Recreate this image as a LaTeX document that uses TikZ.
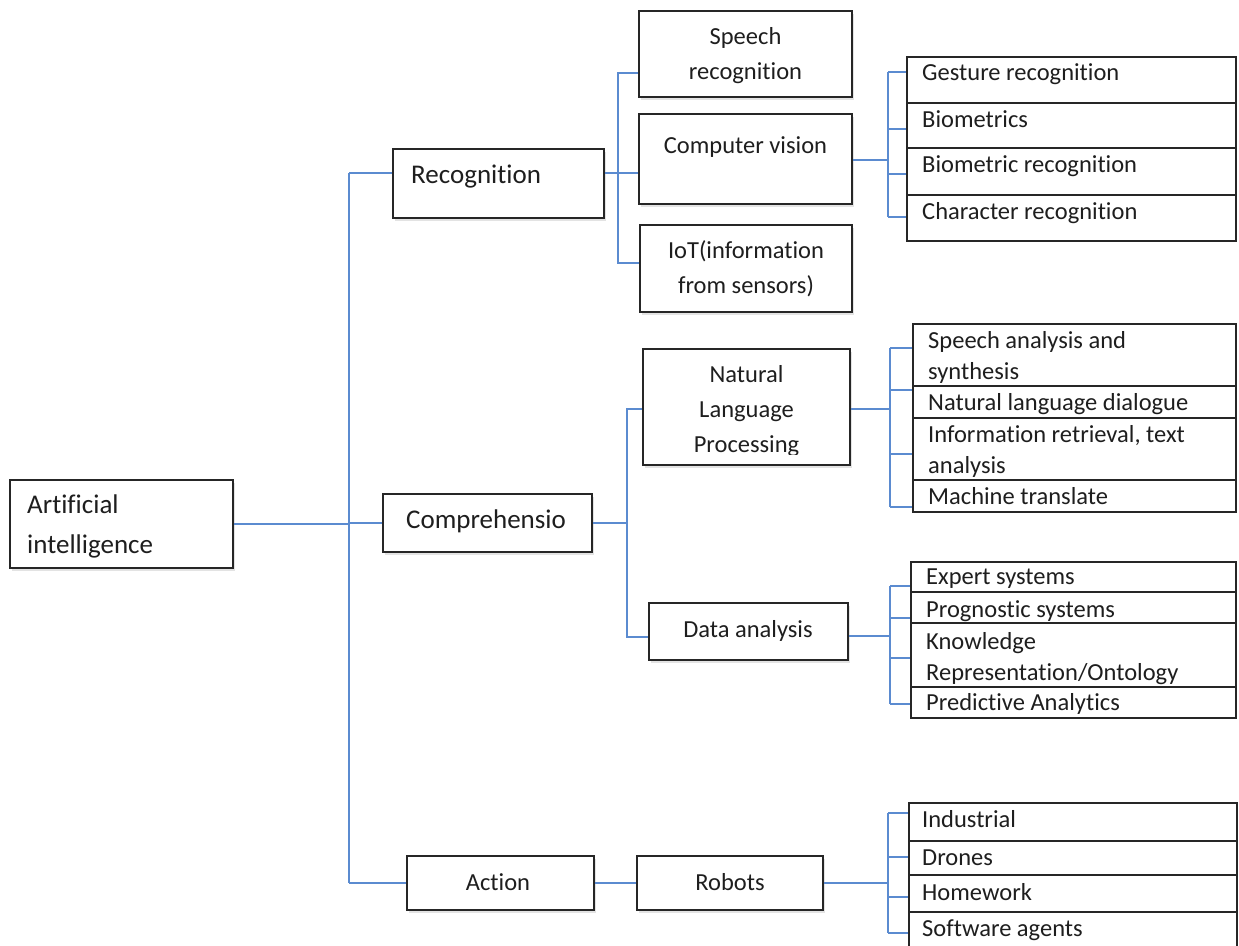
\documentclass[tikz,border=0pt]{standalone}
\usepackage{fontspec}
\setmainfont{Carlito}[Ligatures={NoCommon}]
\usetikzlibrary{fit,shadows}
\definecolor{conn}{HTML}{5B8BD0}
\definecolor{edgec}{HTML}{262626}
\definecolor{ink}{HTML}{1E1E1E}
\tikzset{
  box/.style={draw=edgec, line width=1.6pt, fill=white, inner sep=0pt,
    drop shadow={shadow xshift=1.5pt, shadow yshift=-2.5pt, opacity=0.22}},
  rowbox/.style={draw=edgec, line width=1.4pt, fill=white, inner sep=0pt},
  link/.style={draw=conn, line width=1.3pt},
  bigtxt/.style={font=\fontsize{27}{40}\selectfont, text=ink, inner sep=0pt},
  lbltxt/.style={font=\fontsize{24.5}{35}\selectfont, text=ink, inner sep=0pt},
  stktxt/.style={font=\fontsize{24.5}{31}\selectfont, text=ink, inner sep=0pt},
}
\newcommand{\lft}[1]{\begin{tabular}[t]{@{}l@{}}#1\end{tabular}}
\newcommand{\ctr}[1]{\begin{tabular}[t]{@{}c@{}}#1\end{tabular}}
\begin{document}
\begin{tikzpicture}[x=1pt,y=-1pt]
\useasboundingbox (0,0) rectangle (1239,945);

% ---- main boxes
\node[box, fit={(10,480) (233,568)}] (ai) {};
\node[box, fit={(393,149) (604,218)}] (rec) {};
\node[box, fit={(383,494) (592,552)}] (comp) {};
\node[box, fit={(407,856) (594,910)}] (act) {};
\node[box, fit={(639,11) (852,97)}] (sp) {};
\node[box, fit={(639,114) (852,204)}] (cv) {};
\node[box, fit={(640,225) (852,312)}] (iot) {};
\node[box, fit={(643,349) (850,465)}] (nlp) {};
\node[box, fit={(649,603) (848,660)}] (da) {};
\node[box, fit={(637,856) (823,910)}] (rob) {};

% ---- stacks
\node[rowbox, fit={(907,57) (1236,103)}] (g1) {};
\node[rowbox, fit={(907,103) (1236,148)}] (g2) {};
\node[rowbox, fit={(907,148) (1236,195)}] (g3) {};
\node[rowbox, fit={(907,195) (1236,241)}] (g4) {};

\node[rowbox, fit={(913,324) (1236,386)}] (n1) {};
\node[rowbox, fit={(913,386) (1236,418)}] (n2) {};
\node[rowbox, fit={(913,418) (1236,480)}] (n3) {};
\node[rowbox, fit={(913,480) (1236,512)}] (n4) {};

\node[rowbox, fit={(911,562) (1236,592)}] (d1) {};
\node[rowbox, fit={(911,592) (1236,623)}] (d2) {};
\node[rowbox, fit={(911,623) (1236,687)}] (d3) {};
\node[rowbox, fit={(911,687) (1236,718)}] (d4) {};

\node[rowbox, fit={(909,803) (1237,841)}] (r1) {};
\node[rowbox, fit={(909,841) (1237,875)}] (r2) {};
\node[rowbox, fit={(909,875) (1237,912)}] (r3) {};
\node[rowbox, fit={(909,912) (1237,955)}] (r4) {};

% ---- texts
\node[bigtxt, anchor=base west] (tai) at (27,513) {\lft{Artificial\\intelligence}};
\node[bigtxt, anchor=base west] (trec) at (411,183) {Recognition};
\node[bigtxt, anchor=base west] (tcomp) at (406,528) {Comprehensio};
\node[lbltxt, anchor=base] (tact) at (498,890.5) {Action};
\node[lbltxt, anchor=base] (tsp) at (745.5,44.5) {\ctr{Speech\\recognition}};
\node[lbltxt, anchor=base] (tcv) at (745.5,153.5) {Computer vision};
\node[lbltxt, anchor=base] (tiot) at (746,258.5) {\ctr{IoT(information\\from sensors)}};
\begin{scope}
\clip (643,349) rectangle (850,454);
\node[lbltxt, anchor=base] (tnlp) at (746.5,382.5) {\ctr{Natural\\Language\\Processing}};
\end{scope}
\node[lbltxt, anchor=base] (tda) at (748,637.5) {Data analysis};
\node[lbltxt, anchor=base] (trob) at (730,890.5) {Robots};

\node[stktxt, anchor=base west] (tg1) at (922,80.5) {Gesture recognition};
\node[stktxt, anchor=base west] (tg2) at (922,127.5) {Biometrics};
\node[stktxt, anchor=base west] (tg3) at (922,172.5) {Biometric recognition};
\node[stktxt, anchor=base west] (tg4) at (922,219.5) {Character recognition};

\node[stktxt, anchor=base west] (tn1) at (928,348.5) {\lft{Speech analysis and\\synthesis}};
\node[stktxt, anchor=base west] (tn2) at (928,410.5) {Natural language dialogue};
\node[stktxt, anchor=base west] (tn3) at (928,442.5) {\lft{Information retrieval, text\\analysis}};
\node[stktxt, anchor=base west] (tn4) at (928,504.5) {Machine translate};

\node[stktxt, anchor=base west] (td1) at (926,584.5) {Expert systems};
\node[stktxt, anchor=base west] (td2) at (926,617.5) {Prognostic systems};
\node[stktxt, anchor=base west] (td3) at (926,649.5) {\lft{Knowledge\\Representation/Ontology}};
\node[stktxt, anchor=base west] (td4) at (926,710.5) {Predictive Analytics};

\node[stktxt, anchor=base west] (tr1) at (922,827.5) {Industrial};
\node[stktxt, anchor=base west] (tr2) at (922,865.5) {Drones};
\node[stktxt, anchor=base west] (tr3) at (922,900.5) {Homework};
\node[stktxt, anchor=base west] (tr4) at (922,936.5) {Software agents};

% ---- main trunk
\coordinate (mtop) at (349,173);
\coordinate (mbot) at (349,883);
\draw[link] (mtop) -- (mbot);
\draw[link] (mtop) -- (mtop -| rec.west);
\draw[link] (ai.east) -- (ai.east -| mtop);
\draw[link] (comp.west -| mtop) -- (comp.west);
\draw[link] (mbot) -- (mbot -| act.west);

% ---- recognition branch
\coordinate (rj) at (618,173);
\coordinate (rjT) at (618,73);
\coordinate (rjB) at (618,263);
\draw[link] (rec.east |- rj) -- (rj -| cv.west);
\draw[link] (rjT -| sp.west) -- (rjT) -- (rjB) -- (rjB -| iot.west);

% ---- computer vision branch
\coordinate (cj) at (888,160);
\coordinate (cj1) at (888,72);
\coordinate (cj2) at (888,129);
\coordinate (cj3) at (888,174);
\coordinate (cj4) at (888,217);
\draw[link] (cv.east |- cj) -- (cj);
\draw[link] (cj1) -- (cj4);
\draw[link] (cj1) -- (cj1 -| g1.west);
\draw[link] (cj2) -- (cj2 -| g2.west);
\draw[link] (cj3) -- (cj3 -| g3.west);
\draw[link] (cj4) -- (cj4 -| g4.west);

% ---- comprehension branch
\coordinate (kjT) at (627,409);
\coordinate (kjM) at (627,523);
\coordinate (kjB) at (627,637);
\draw[link] (comp.east |- kjM) -- (kjM);
\draw[link] (kjT -| nlp.west) -- (kjT) -- (kjB) -- (kjB -| da.west);

% ---- NLP branch
\coordinate (nj) at (890,409);
\coordinate (nj1) at (890,348);
\coordinate (nj2) at (890,390);
\coordinate (nj3) at (890,454);
\coordinate (nj4) at (890,507);
\draw[link] (nlp.east |- nj) -- (nj);
\draw[link] (nj1) -- (nj4);
\draw[link] (nj1) -- (nj1 -| n1.west);
\draw[link] (nj2) -- (nj2 -| n2.west);
\draw[link] (nj3) -- (nj3 -| n3.west);
\draw[link] (nj4) -- (nj4 -| n4.west);

% ---- data analysis branch
\coordinate (dj) at (890,636);
\coordinate (dj1) at (890,586);
\coordinate (dj2) at (890,618);
\coordinate (dj3) at (890,658);
\coordinate (dj4) at (890,704);
\draw[link] (da.east |- dj) -- (dj);
\draw[link] (dj1) -- (dj4);
\draw[link] (dj1) -- (dj1 -| d1.west);
\draw[link] (dj2) -- (dj2 -| d2.west);
\draw[link] (dj3) -- (dj3 -| d3.west);
\draw[link] (dj4) -- (dj4 -| d4.west);

% ---- action / robots branch
\draw[link] (act.east) -- (rob.west);
\coordinate (bj) at (888,883);
\coordinate (bj1) at (888,813);
\coordinate (bj2) at (888,857);
\coordinate (bj3) at (888,897);
\coordinate (bj4) at (888,933);
\draw[link] (rob.east) -- (bj);
\draw[link] (bj1) -- (bj4);
\draw[link] (bj1) -- (bj1 -| r1.west);
\draw[link] (bj2) -- (bj2 -| r2.west);
\draw[link] (bj3) -- (bj3 -| r3.west);
\draw[link] (bj4) -- (bj4 -| r4.west);
\end{tikzpicture}
\end{document}
